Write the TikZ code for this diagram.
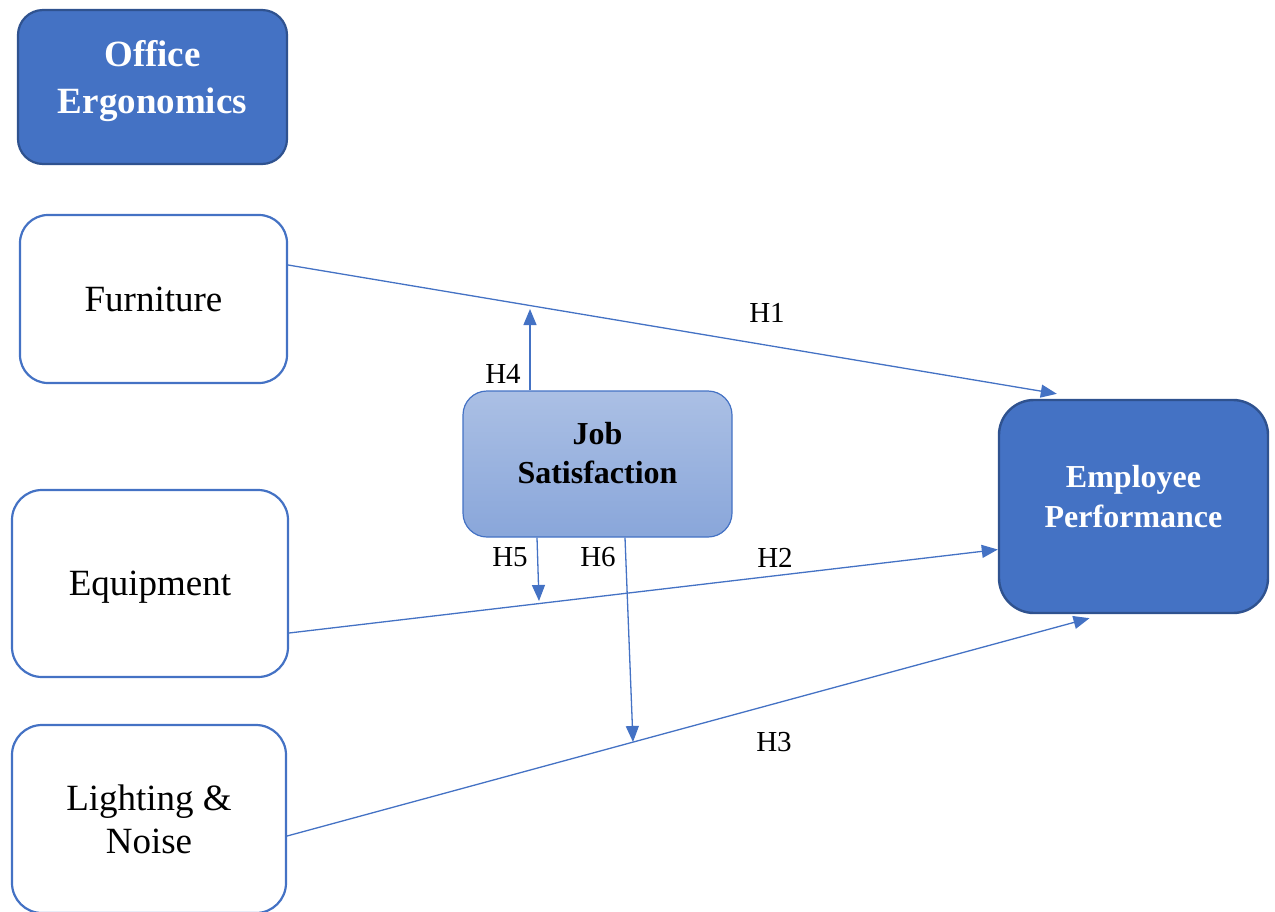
\documentclass[tikz,border=0pt]{standalone}
\usepackage{fontspec}
\setmainfont{Liberation Serif}
\usepackage{xcolor}
\usetikzlibrary{arrows.meta, positioning}

\definecolor{ergoblue}{HTML}{4472C4}
\definecolor{ergodark}{HTML}{2F528F}

\begin{document}
\begin{tikzpicture}[
  x=1pt, y=-1pt,
  box/.style={draw=ergoblue, line width=2.2pt, rounded corners=28pt, align=center, inner sep=0pt,
    font=\fontsize{37}{44}\selectfont},
  headbox/.style={box, draw=ergodark, fill=ergoblue, text=white, text depth=20pt},
  modbox/.style={draw=ergoblue, line width=1.2pt, rounded corners=24pt, align=center, inner sep=0pt,
    shading=axis, top color=ergoblue!45, bottom color=ergoblue!63, text depth=22pt,
    font=\fontsize{32}{39}\selectfont\bfseries},
  arrow/.style={-{Triangle[length=16pt,width=13pt]}, draw=ergoblue, line width=1.3pt},
  hlabel/.style={font=\fontsize{29}{29}\selectfont, inner sep=0pt}
]
\useasboundingbox (0,0) rectangle (1275,911);

% factors
\node[headbox, minimum width=269pt, minimum height=154pt, rounded corners=25pt,
  font=\fontsize{37}{47}\selectfont\bfseries] (office) at (152.5,87) {Office\\Ergonomics};
\node[box, minimum width=267pt, minimum height=168pt] (furn) at (153.5,299) {Furniture};
\node[box, minimum width=276pt, minimum height=187pt, rounded corners=30pt, text depth=0pt] (equip) at (150,583.5) {Equipment};
\node[box, minimum width=274pt, minimum height=188pt, rounded corners=30pt,
  font=\fontsize{37}{43}\selectfont] (light) at (149,819) {Lighting \&\\Noise};

% moderator and outcome
\node[modbox, minimum width=269pt, minimum height=146pt] (job) at (597.5,464) {Job\\Satisfaction};
\node[headbox, minimum width=269pt, minimum height=213pt, rounded corners=35pt, line width=2.4pt,
  font=\fontsize{32}{40}\selectfont\bfseries] (empl) at (1133.5,506.5) {Employee\\Performance};

% moderation targets on the direct paths
\coordinate (h4end) at (530,309);
\coordinate (h5end) at (539,601);
\coordinate (h6end) at (633,742);

% direct paths
\draw[arrow] ([yshift=34pt]furn.east) -- ([xshift=59pt,yshift=5pt]empl.north west);
\draw[arrow] ([yshift=-49.5pt]equip.east) -- ([yshift=-43pt]empl.west);
\draw[arrow] ([yshift=-17pt]light.east) -- ([xshift=-44pt,yshift=-4pt]empl.south);

% moderation
\draw[arrow] ([xshift=-67.5pt]job.north) -- (h4end);
\draw[arrow] ([xshift=-60.5pt]job.south) -- (h5end);
\draw[arrow] ([xshift=27.5pt]job.south) -- (h6end);

% labels
\node[hlabel] (hA) at (767,313) {H1};
\node[hlabel] (hB) at (775,558) {H2};
\node[hlabel] (hC) at (774,742) {H3};
\node[hlabel] (hD) at (503,374) {H4};
\node[hlabel] (hE) at (510,557) {H5};
\node[hlabel] (hF) at (598,557) {H6};
\end{tikzpicture}
\end{document}
